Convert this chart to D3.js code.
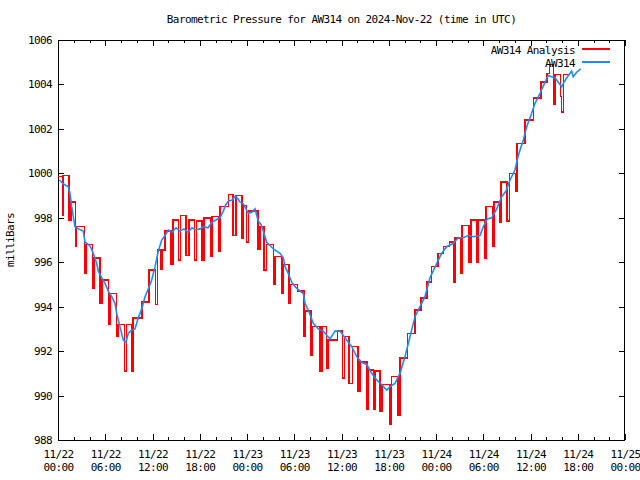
<!DOCTYPE html>
<html>
<head>
<meta charset="utf-8">
<script src="https://cdn.jsdelivr.net/npm/d3@7"></script>
<style>
  html, body { margin: 0; padding: 0; background: #fff; }
  svg { display: block; }
  text { font-family: "DejaVu Sans Mono", "Liberation Mono", monospace; font-size: 11px; letter-spacing: -0.6px; fill: #000; }
</style>
</head>
<body>
<script>
// ---- data (hours since 2024-11-22 00:00 UTC, millibars) ----
const redHours = [0.06,0.60,0.67,1.40,1.65,2.20,2.35,3.34,3.52,4.36,4.57,5.33,5.59,6.39,6.64,7.43,7.62,8.44,8.70,9.33,9.52,10.63,11.56,12.36,12.61,13.05,13.18,13.59,14.35,14.57,15.28,15.56,16.29,16.61,17.33,17.59,18.25,18.54,19.37,19.52,20.36,20.57,21.63,22.26,22.57,23.33,23.53,23.96,24.17,25.43,25.65,26.16,26.50,27.34,27.56,28.41,28.61,29.33,29.52,30.41,31.24,31.45,32.13,32.34,33.27,33.49,34.12,34.32,35.47,36.15,36.36,36.99,37.42,38.06,38.35,39.20,39.40,40.04,40.25,40.89,41.11,42.16,42.37,43.21,43.43,44.36,45.33,46.10,46.82,47.45,48.29,48.93,49.69,50.20,50.41,51.14,51.30,52.19,52.41,53.24,53.33,54.16,54.35,55.20,55.40,56.13,56.29,57.05,57.31,58.10,58.29,59.30,60.36,61.30,62.06,62.39,62.90,63.11,63.83,63.96,64.17,65.02];
const redMb = [999.85,998.1,999.9,997.9,998.7,996.7,997.6,995.5,996.8,994.85,996.2,994.15,995.2,993.2,994.6,992.65,993.2,991.1,993.2,991.1,993.5,994.2,995.65,994.1,996.55,995.7,996.55,997.4,995.9,997.9,996.1,998.1,996.3,997.9,996.1,997.85,996.1,998.0,996.25,998.05,996.5,998.5,999.05,997.2,999.0,997.1,998.55,996.9,998.3,996.6,997.6,995.65,996.8,995.0,996.25,994.6,995.9,994.15,995.0,994.7,992.65,993.8,991.8,993.1,991.1,993.1,991.25,992.5,992.9,990.8,992.65,990.55,992.2,990.2,991.5,989.4,991.15,989.4,991.1,989.3,990.5,988.7,990.85,989.1,991.7,992.8,993.85,994.4,995.1,995.8,996.4,996.7,996.9,995.1,997.1,995.5,997.65,996.0,997.9,996.0,997.9,996.2,998.5,996.7,998.7,997.8,999.6,997.85,1000.0,999.2,1001.35,1002.4,1003.4,1004.1,1004.5,1004.9,1003.1,1004.45,1003.45,1002.75,1004.45,1004.45];

const blueHours = [0.17,0.63,1.02,1.31,1.52,1.74,1.97,2.16,2.58,2.92,3.21,3.43,3.85,4.13,4.48,4.91,5.12,5.55,5.97,6.39,6.82,7.24,7.45,7.87,8.29,8.63,8.93,9.36,9.78,10.20,10.63,11.05,11.47,11.90,12.32,12.74,13.17,13.59,14.01,14.48,14.98,15.49,16.00,16.51,17.02,17.52,18.03,18.54,19.05,19.56,20.06,20.57,20.99,21.33,21.63,22.10,22.48,22.86,23.11,23.49,23.87,24.17,24.60,25.02,25.43,25.78,26.07,26.50,26.92,27.34,27.77,28.19,28.61,28.83,29.24,29.68,30.10,30.73,31.15,31.37,31.78,32.42,33.05,33.69,34.16,34.54,35.17,35.81,36.66,37.30,37.93,38.57,39.20,39.83,40.47,41.11,41.74,42.16,42.79,43.43,44.06,44.70,45.33,45.97,46.60,47.24,48.09,48.72,49.36,50.20,50.83,51.47,52.10,52.74,53.59,54.01,54.51,55.07,55.71,56.34,56.89,57.40,58.03,58.45,58.67,59.09,59.52,60.15,60.57,61.21,61.84,62.26,62.69,63.11,63.53,63.96,64.17,64.60,65.23,65.43,65.86,66.37];
const blueMb = [999.7,999.55,999.45,999.4,999.1,998.5,998.0,997.6,997.5,997.45,997.4,996.9,996.8,996.7,996.4,995.95,995.6,995.3,995.05,994.7,994.45,994.15,993.7,993.1,992.5,992.4,992.8,992.95,993.0,993.5,993.9,994.45,994.8,995.2,995.8,996.5,997.0,997.2,997.45,997.35,997.55,997.4,997.5,997.35,997.55,997.45,997.5,997.6,997.55,997.8,997.9,998.0,998.3,998.6,998.75,998.8,998.95,998.85,998.7,998.65,998.4,998.2,998.25,998.4,997.85,997.7,997.4,996.9,996.75,996.6,996.5,996.4,996.2,995.8,995.5,995.1,994.9,994.7,994.6,994.15,993.85,993.25,993.0,992.9,992.7,992.55,992.9,992.9,992.5,992.2,991.75,991.5,991.4,991.0,990.7,990.5,990.25,990.4,990.55,991.0,991.75,992.65,993.55,994.0,994.45,995.3,995.95,996.4,996.7,996.85,997.1,997.1,997.2,997.15,997.2,997.6,997.95,998.0,998.4,998.95,999.2,999.7,1000.15,1000.8,1001.05,1001.5,1002.1,1002.7,1003.15,1003.6,1004.1,1004.4,1004.35,1004.3,1004.1,1003.9,1004.05,1004.3,1004.6,1004.35,1004.55,1004.7];

const xMajorTicks = [0,6,12,18,24,30,36,42,48,54,60,66,72];
const xMinorTicks = [2,4,8,10,14,16,20,22,26,28,32,34,38,40,44,46,50,52,56,58,62,64,68,70];
const yTicks = [988,990,992,994,996,998,1000,1002,1004,1006];
const seriesNames = ["AW314 Analysis", "AW314"];
const seriesColors = ["#ff0000", "#1a8cff"];
const titleText = "Barometric Pressure for AW314 on 2024-Nov-22 (time in UTC)";
const yLabel = "milliBars";

// ---- layout ----
const W = 640, H = 480;
const L = 58, R = 625, T = 40, B = 440;

const svg = d3.select("body").append("svg").attr("width", W).attr("height", H);

const x = d3.scaleLinear().domain([0, 72]).range([L, R]);
const y = d3.scaleLinear().domain([988, 1006]).range([B, T]);

function fmtTick(h) {
  const day = 22 + Math.floor(h / 24);
  const hr = h % 24;
  return "11/" + day + "|" + String(hr).padStart(2, "0") + ":00";
}

// bottom axis with labels
const gB = svg.append("g").attr("transform", `translate(0,${B})`)
  .call(d3.axisBottom(x).tickValues(xMajorTicks).tickSize(-6).tickPadding(10).tickFormat(fmtTick));
gB.selectAll(".tick text").each(function(d) {
  const parts = fmtTick(d).split("|");
  const t = d3.select(this).text(null);
  t.append("tspan").attr("x", 0).attr("dy", "0.71em").text(parts[0]);
  t.append("tspan").attr("x", 0).attr("dy", "1.2em").text(parts[1]);
}).attr("dy", null);
svg.append("g").attr("transform", `translate(0,${B})`)
  .call(d3.axisBottom(x).tickValues(xMinorTicks).tickSize(-3).tickFormat(""));

// top axis (mirror)
svg.append("g").attr("transform", `translate(0,${T})`)
  .call(d3.axisTop(x).tickValues(xMajorTicks).tickSize(-6).tickFormat(""));
svg.append("g").attr("transform", `translate(0,${T})`)
  .call(d3.axisTop(x).tickValues(xMinorTicks).tickSize(-3).tickFormat(""));

// left axis
svg.append("g").attr("transform", `translate(${L},0)`)
  .call(d3.axisLeft(y).tickValues(yTicks).tickSize(-6).tickPadding(6).tickFormat(d3.format("d")));
// right axis (mirror)
svg.append("g").attr("transform", `translate(${R},0)`)
  .call(d3.axisRight(y).tickValues(yTicks).tickSize(-6).tickFormat(""));

svg.selectAll(".domain").remove();
svg.selectAll(".tick line").attr("stroke", "#000").attr("shape-rendering", "crispEdges");
svg.selectAll(".tick text").attr("font-family", null).attr("font-size", null).attr("fill", "#000");

// border
svg.append("rect").attr("x", L + 0.5).attr("y", T + 0.5)
  .attr("width", R - L - 1).attr("height", B - T)
  .attr("fill", "none").attr("stroke", "#000").attr("stroke-width", 1)
  .attr("shape-rendering", "crispEdges");

// series
const redData = redHours.map((h, i) => [h, redMb[i]]);
const blueData = blueHours.map((h, i) => [h, blueMb[i]]);

svg.append("path").datum(redData)
  .attr("fill", "none").attr("stroke", seriesColors[0]).attr("stroke-width", 1.6)
  .attr("shape-rendering", "crispEdges")
  .attr("d", d3.line().x(d => x(d[0])).y(d => y(d[1])).curve(d3.curveStepAfter));

svg.append("path").datum(blueData)
  .attr("fill", "none").attr("stroke", seriesColors[1]).attr("stroke-width", 1.6)
  .attr("d", d3.line().x(d => x(d[0])).y(d => y(d[1])));

// title
svg.append("text").attr("x", (L + R) / 2).attr("y", 23).attr("text-anchor", "middle").text(titleText);

// y label
svg.append("text").attr("transform", `translate(14,${(T + B) / 2}) rotate(-90)`)
  .attr("text-anchor", "middle").text(yLabel);

// legend
const legY = [50, 63];
seriesNames.forEach((name, i) => {
  svg.append("text").attr("x", 575).attr("y", legY[i]).attr("dy", "0.35em")
    .attr("text-anchor", "end").text(name);
  svg.append("line").attr("x1", 582).attr("x2", 610).attr("y1", legY[i] - 1).attr("y2", legY[i] - 1)
    .attr("stroke", seriesColors[i]).attr("stroke-width", 1.6).attr("shape-rendering", "crispEdges");
});
</script>
</body>
</html>
